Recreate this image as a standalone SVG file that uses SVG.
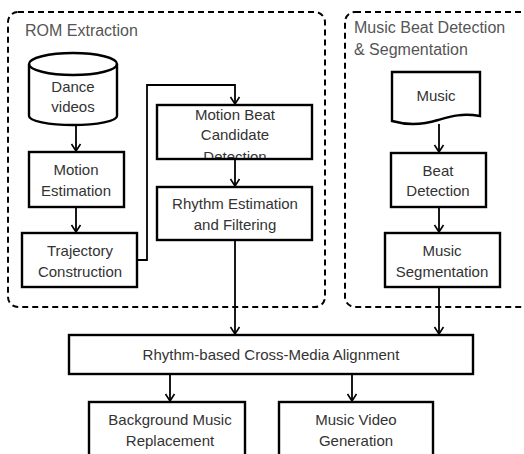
<svg xmlns="http://www.w3.org/2000/svg" width="524" height="454" viewBox="0 0 524 454">
<defs>
<marker id="arr" markerWidth="12" markerHeight="12" refX="10" refY="6" orient="auto" markerUnits="userSpaceOnUse">
<path d="M3,1.5 L10,6 L3,10.5" fill="none" stroke="#000" stroke-width="1.6"/>
</marker>
<clipPath id="mbclip"><rect x="157" y="105" width="155" height="53"/></clipPath>
</defs>
<style>
.box{fill:#fff;stroke:#000;stroke-width:2.4}
.grp{fill:none;stroke:#000;stroke-width:2;stroke-dasharray:6 4}
.t{font-family:"Liberation Sans",Arial,sans-serif;font-size:15px;fill:#333;text-anchor:middle}
.h{font-family:"Liberation Sans",Arial,sans-serif;font-size:16px;fill:#555}
.c{fill:none;stroke:#000;stroke-width:1.8}
</style>
<rect width="524" height="454" fill="#fff"/>
<g id="rom-extraction">
<rect class="grp" x="8" y="12" width="317" height="295" rx="10"/>
<text class="h" x="25" y="36">ROM Extraction</text>
</g>
<g id="music-beat-group">
<rect class="grp" x="345" y="12" width="200" height="295" rx="10"/>
<text class="h" x="354" y="33">Music Beat Detection</text>
<text class="h" x="354" y="55">&amp; Segmentation</text>
</g>
<g id="connectors">
<line class="c" x1="76" y1="126" x2="76" y2="151" marker-end="url(#arr)"/>
<line class="c" x1="76" y1="207" x2="76" y2="232" marker-end="url(#arr)"/>
<polyline class="c" points="137,260 147,260 147,85 235,85 235,104" marker-end="url(#arr)"/>
<line class="c" x1="235" y1="159" x2="235" y2="186" marker-end="url(#arr)"/>
<line class="c" x1="235" y1="240" x2="235" y2="334" marker-end="url(#arr)"/>
<line class="c" x1="439" y1="124" x2="439" y2="152" marker-end="url(#arr)"/>
<line class="c" x1="439" y1="207" x2="439" y2="232" marker-end="url(#arr)"/>
<line class="c" x1="439" y1="287" x2="439" y2="334" marker-end="url(#arr)"/>
<line class="c" x1="170" y1="374" x2="170" y2="401" marker-end="url(#arr)"/>
<line class="c" x1="352" y1="374" x2="352" y2="401" marker-end="url(#arr)"/>
</g>
<g id="dance-videos">
<path class="box" d="M29,64 A44,11 0 0 1 117,64 L117,116 A44,9 0 0 1 29,116 Z"/>
<path d="M29,64 A44,11 0 0 0 117,64" fill="none" stroke="#000" stroke-width="2.4"/>
<text class="t" x="73" y="92">Dance</text>
<text class="t" x="73" y="112">videos</text>
</g>
<g id="motion-estimation">
<rect class="box" x="29" y="152" width="95" height="55"/>
<text class="t" x="76" y="175">Motion</text>
<text class="t" x="76" y="196">Estimation</text>
</g>
<g id="trajectory-construction">
<rect class="box" x="22" y="233" width="115" height="54"/>
<text class="t" x="80" y="256">Trajectory</text>
<text class="t" x="80" y="277">Construction</text>
</g>
<g id="motion-beat">
<rect class="box" x="157" y="105" width="155" height="54"/>
<g clip-path="url(#mbclip)">
<text class="t" x="235" y="120">Motion Beat</text>
<text class="t" x="235" y="140">Candidate</text>
<text class="t" x="235" y="162">Detection</text>
</g>
</g>
<g id="rhythm-estimation">
<rect class="box" x="157" y="187" width="155" height="53"/>
<text class="t" x="235" y="209">Rhythm Estimation</text>
<text class="t" x="235" y="230">and Filtering</text>
</g>
<g id="music">
<path class="box" d="M392,72 L480,72 L480,116 C462,113 452,116 438,120 C422,125 406,125 392,121 Z"/>
<text class="t" x="436" y="101">Music</text>
</g>
<g id="beat-detection">
<rect class="box" x="391" y="153" width="95" height="54"/>
<text class="t" x="438" y="176">Beat</text>
<text class="t" x="438" y="196">Detection</text>
</g>
<g id="music-segmentation">
<rect class="box" x="385" y="233" width="115" height="54"/>
<text class="t" x="442" y="256">Music</text>
<text class="t" x="442" y="277">Segmentation</text>
</g>
<g id="alignment">
<rect class="box" x="69" y="335" width="404" height="39"/>
<text class="t" x="271" y="360">Rhythm-based Cross-Media Alignment</text>
</g>
<g id="bgm-replacement">
<rect class="box" x="89" y="402" width="156" height="60"/>
<text class="t" x="170" y="425">Background Music</text>
<text class="t" x="170" y="446">Replacement</text>
</g>
<g id="mv-generation">
<rect class="box" x="279" y="402" width="154" height="60"/>
<text class="t" x="356" y="425">Music Video</text>
<text class="t" x="356" y="446">Generation</text>
</g>
</svg>
